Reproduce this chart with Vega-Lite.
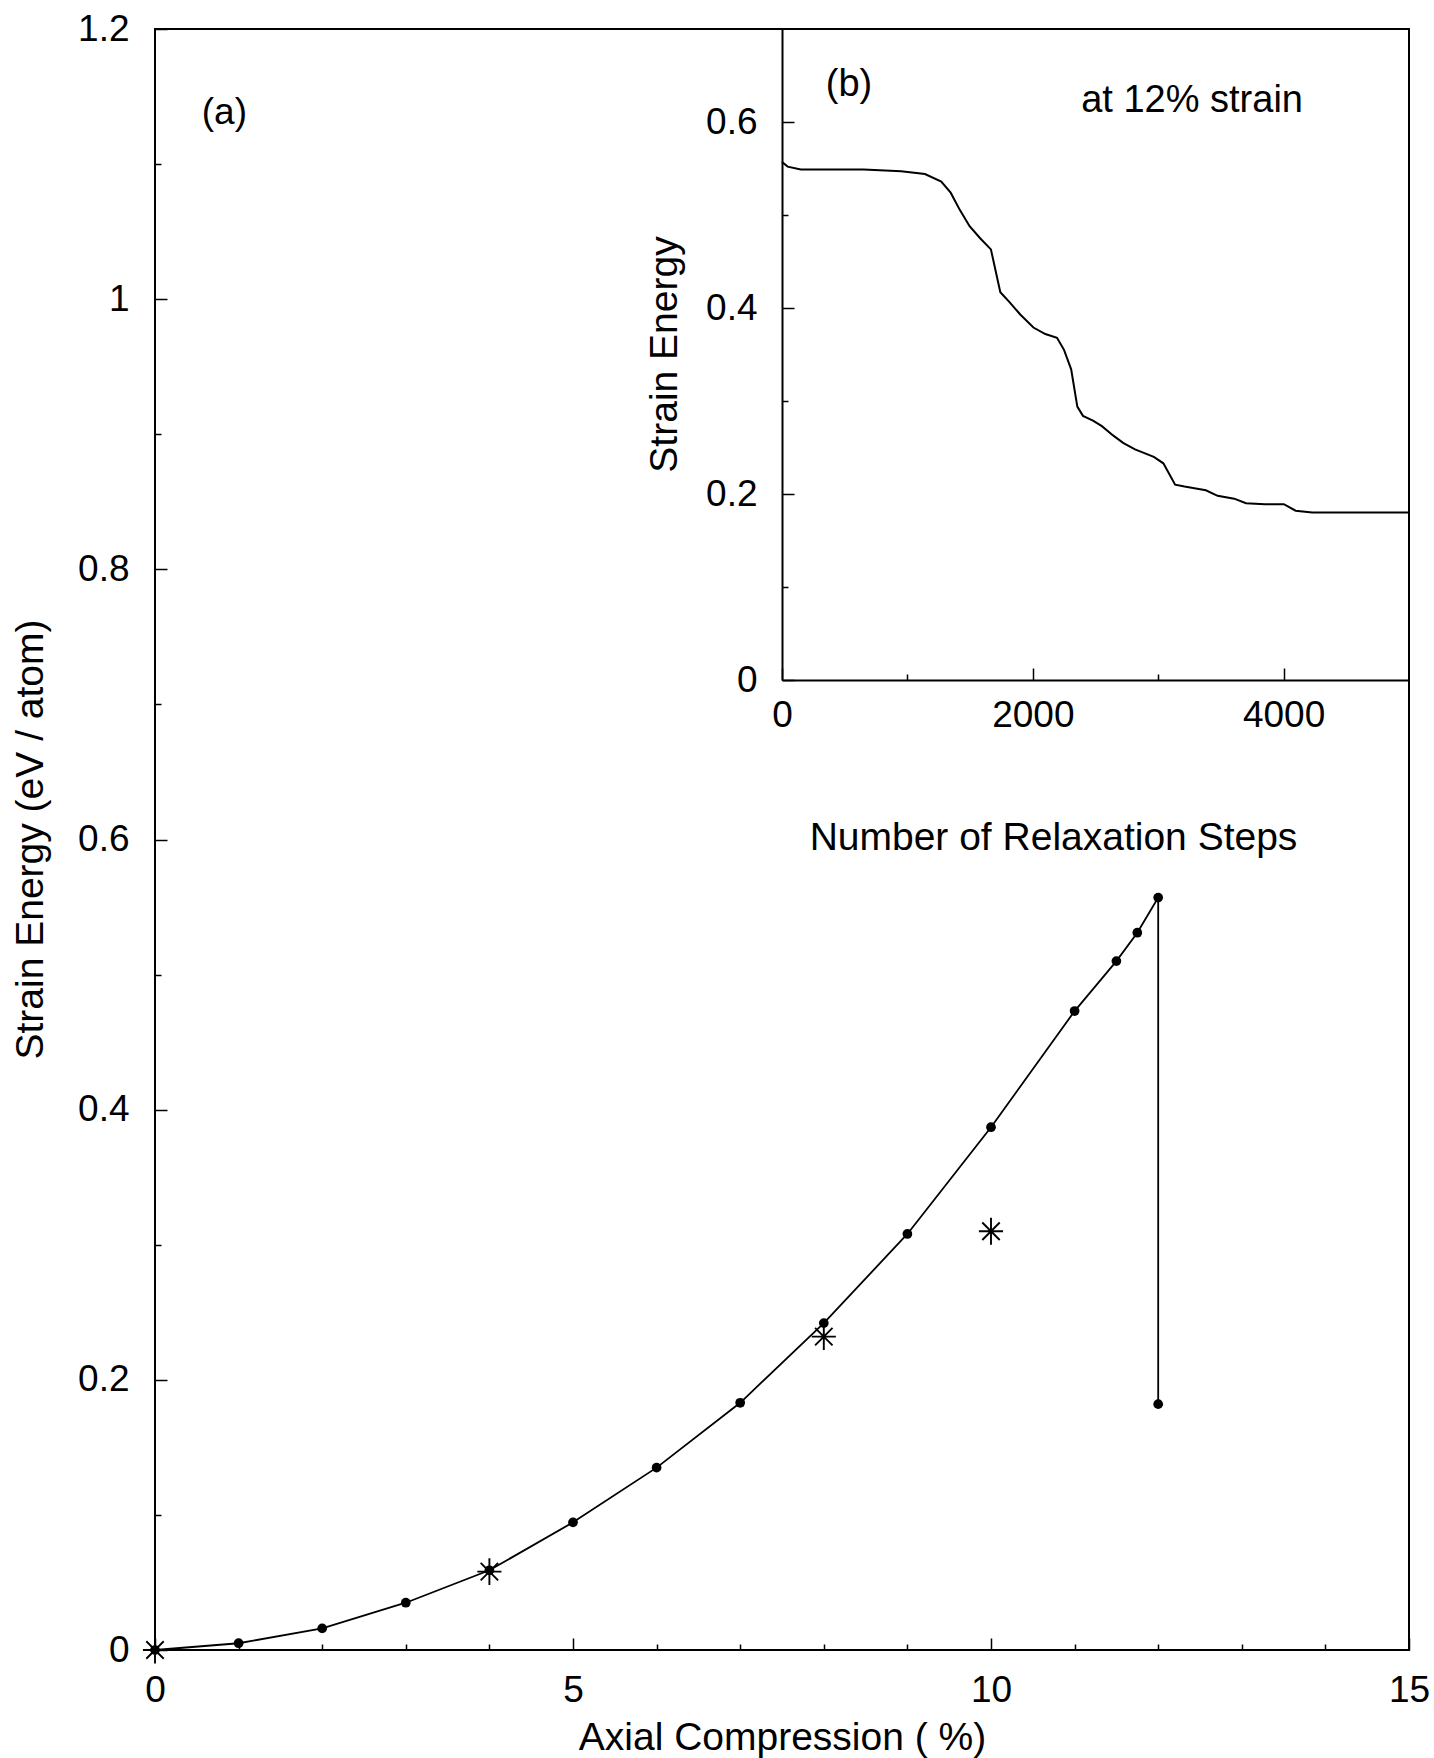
{
  "$schema": "https://vega.github.io/schema/vega-lite/v6.json",
  "width": 1254,
  "height": 1621,
  "autosize": "none",
  "padding": {"left": 155, "top": 29, "right": 25, "bottom": 108},
  "background": "white",
  "config": {
    "font": "Liberation Sans",
    "view": {"stroke": "black", "strokeWidth": 2},
    "axis": {
      "grid": false,
      "tickColor": "black",
      "tickWidth": 1.5,
      "labelColor": "black",
      "titleColor": "black",
      "labelFont": "Liberation Sans",
      "titleFont": "Liberation Sans",
      "labelFontSize": 37,
      "titleFontSize": 39,
      "titleFontWeight": "normal",
      "domainColor": "black",
      "domainWidth": 2,
      "labelFlush": false,
      "labelOverlap": false
    }
  },
  "datasets": {
    "compression": [
      {"compression": 0, "energy": 0},
      {"compression": 1, "energy": 0.005},
      {"compression": 2, "energy": 0.016},
      {"compression": 3, "energy": 0.035},
      {"compression": 4, "energy": 0.059},
      {"compression": 5, "energy": 0.0945},
      {"compression": 6, "energy": 0.135},
      {"compression": 7, "energy": 0.183},
      {"compression": 8, "energy": 0.242},
      {"compression": 9, "energy": 0.308},
      {"compression": 10, "energy": 0.387},
      {"compression": 11, "energy": 0.473},
      {"compression": 11.5, "energy": 0.51},
      {"compression": 11.75, "energy": 0.531},
      {"compression": 12, "energy": 0.557},
      {"compression": 12, "energy": 0.182}
    ],
    "stars": [
      {"compression": 0, "energy": 0},
      {"compression": 4, "energy": 0.058},
      {"compression": 8, "energy": 0.232},
      {"compression": 10, "energy": 0.31}
    ],
    "relaxation": [
      {"steps": 0, "energy": 0.557},
      {"steps": 45, "energy": 0.552},
      {"steps": 150, "energy": 0.549},
      {"steps": 270, "energy": 0.549},
      {"steps": 650, "energy": 0.549},
      {"steps": 950, "energy": 0.547},
      {"steps": 1140, "energy": 0.544},
      {"steps": 1270, "energy": 0.536},
      {"steps": 1345, "energy": 0.524},
      {"steps": 1420, "energy": 0.505},
      {"steps": 1496, "energy": 0.488},
      {"steps": 1580, "energy": 0.475},
      {"steps": 1666, "energy": 0.463},
      {"steps": 1741, "energy": 0.417},
      {"steps": 1816, "energy": 0.406},
      {"steps": 1900, "energy": 0.393},
      {"steps": 2005, "energy": 0.379},
      {"steps": 2100, "energy": 0.372},
      {"steps": 2193, "energy": 0.368},
      {"steps": 2249, "energy": 0.355},
      {"steps": 2306, "energy": 0.334},
      {"steps": 2355, "energy": 0.294},
      {"steps": 2400, "energy": 0.284},
      {"steps": 2480, "energy": 0.279},
      {"steps": 2551, "energy": 0.273},
      {"steps": 2640, "energy": 0.263},
      {"steps": 2720, "energy": 0.255},
      {"steps": 2815, "energy": 0.248},
      {"steps": 2965, "energy": 0.24},
      {"steps": 3041, "energy": 0.233},
      {"steps": 3135, "energy": 0.21},
      {"steps": 3210, "energy": 0.208},
      {"steps": 3300, "energy": 0.206},
      {"steps": 3380, "energy": 0.204},
      {"steps": 3474, "energy": 0.198},
      {"steps": 3606, "energy": 0.195},
      {"steps": 3700, "energy": 0.19},
      {"steps": 3850, "energy": 0.189},
      {"steps": 4002, "energy": 0.189},
      {"steps": 4096, "energy": 0.182},
      {"steps": 4228, "energy": 0.18},
      {"steps": 5000, "energy": 0.18}
    ],
    "notes_a": [
      {"compression": 0.83, "energy": 1.138, "label": "(a)"}
    ],
    "notes_b": [
      {"steps": 534, "energy": 0.64, "label": "(b)"},
      {"steps": 3270, "energy": 0.623, "label": "at 12% strain"}
    ]
  },
  "layer": [
    {
      "layer": [
        {
          "data": {"name": "compression"},
          "mark": {"type": "line", "color": "black", "strokeWidth": 1.8},
          "encoding": {
            "x": {
              "field": "compression", "type": "quantitative",
              "scale": {"domain": [0, 15]},
              "axis": {
                "orient": "bottom",
                "values": [0,1,2,3,4,5,6,7,8,9,10,11,12,13,14,15],
                "format": "~g",
                "labelExpr": "datum.value % 5 == 0 ? datum.label : ''",
                "tickSize": {"condition": {"test": "datum.value % 5 == 0", "value": -12}, "value": -6},
                "labelPadding": 34,
                "domain": false,
                "title": "Axial Compression ( %)",
                "titleY": 99,
                "titleBaseline": "alphabetic"
              }
            },
            "y": {
              "field": "energy", "type": "quantitative",
              "scale": {"domain": [0, 1.2]},
              "axis": {
                "orient": "left",
                "values": [0,0.1,0.2,0.3,0.4,0.5,0.6,0.7,0.8,0.9,1,1.1,1.2],
                "format": "~g",
                "labelExpr": "round(datum.value*10) % 2 == 0 ? datum.label : ''",
                "tickSize": {"condition": {"test": "round(datum.value*10) % 2 == 0", "value": -12}, "value": -6},
                "labelPadding": 38,
                "domain": false,
                "title": "Strain Energy (eV / atom)",
                "titleX": -125,
                "titleY": 810,
                "titleAngle": -90,
                "titleBaseline": "middle",
                "titleAlign": "center"
              }
            },
            "order": {"value": null}
          }
        },
        {
          "data": {"name": "compression"},
          "mark": {"type": "point", "shape": "circle", "filled": true, "color": "black", "size": 95, "opacity": 1},
          "encoding": {
            "x": {"field": "compression", "type": "quantitative", "scale": {"domain": [0, 15]}},
            "y": {"field": "energy", "type": "quantitative", "scale": {"domain": [0, 1.2]}}
          }
        },
        {
          "data": {"name": "stars"},
          "mark": {
            "type": "point",
            "shape": "M0,-1L0,1M-0.9,0L0.9,0M-0.65,-0.65L0.65,0.65M-0.65,0.65L0.65,-0.65",
            "filled": false, "stroke": "black", "strokeWidth": 1.9, "size": 720, "opacity": 1
          },
          "encoding": {
            "x": {"field": "compression", "type": "quantitative", "scale": {"domain": [0, 15]}},
            "y": {"field": "energy", "type": "quantitative", "scale": {"domain": [0, 1.2]}}
          }
        },
        {
          "data": {"name": "notes_a"},
          "mark": {"type": "text", "font": "Liberation Sans", "fontSize": 37, "color": "black", "align": "center", "baseline": "middle"},
          "encoding": {
            "x": {"field": "compression", "type": "quantitative", "scale": {"domain": [0, 15]}},
            "y": {"field": "energy", "type": "quantitative", "scale": {"domain": [0, 1.2]}},
            "text": {"field": "label"}
          }
        }
      ]
    },
    {
      "layer": [
        {
          "data": {"name": "relaxation"},
          "mark": {"type": "line", "color": "black", "strokeWidth": 2},
          "encoding": {
            "x": {
              "field": "steps", "type": "quantitative",
              "scale": {"domain": [0, 5000], "range": [627, 1254]},
              "axis": {
                "orient": "bottom",
                "offset": -970,
                "values": [0, 1000, 2000, 3000, 4000],
                "format": "d",
                "labelExpr": "datum.value % 2000 == 0 ? datum.label : ''",
                "tickSize": {"condition": {"test": "datum.value % 2000 == 0", "value": -12}, "value": -6},
                "labelPadding": 29,
                "domain": true,
                "title": "Number of Relaxation Steps",
                "titleX": 898,
                "titleY": 169,
                "titleBaseline": "alphabetic",
                "titleAlign": "center"
              }
            },
            "y": {
              "field": "energy", "type": "quantitative",
              "scale": {"domain": [0, 0.7], "range": [651, 0]},
              "axis": {
                "orient": "left",
                "offset": -627,
                "values": [0, 0.1, 0.2, 0.3, 0.4, 0.5, 0.6],
                "format": "~g",
                "labelExpr": "round(datum.value*10) % 2 == 0 ? datum.label : ''",
                "tickSize": {"condition": {"test": "round(datum.value*10) % 2 == 0", "value": -12}, "value": -6},
                "labelPadding": 37,
                "domain": true,
                "title": "Strain Energy",
                "titleX": -118,
                "titleY": 325,
                "titleAngle": -90,
                "titleBaseline": "middle",
                "titleAlign": "center"
              }
            }
          }
        },
        {
          "data": {"name": "notes_b"},
          "mark": {"type": "text", "font": "Liberation Sans", "fontSize": 38, "color": "black", "align": "center", "baseline": "middle"},
          "encoding": {
            "x": {"field": "steps", "type": "quantitative", "scale": {"domain": [0, 5000], "range": [627, 1254]}},
            "y": {"field": "energy", "type": "quantitative", "scale": {"domain": [0, 0.7], "range": [651, 0]}},
            "text": {"field": "label"}
          }
        }
      ]
    }
  ],
  "resolve": {
    "scale": {"x": "independent", "y": "independent"},
    "axis": {"x": "independent", "y": "independent"}
  }
}
